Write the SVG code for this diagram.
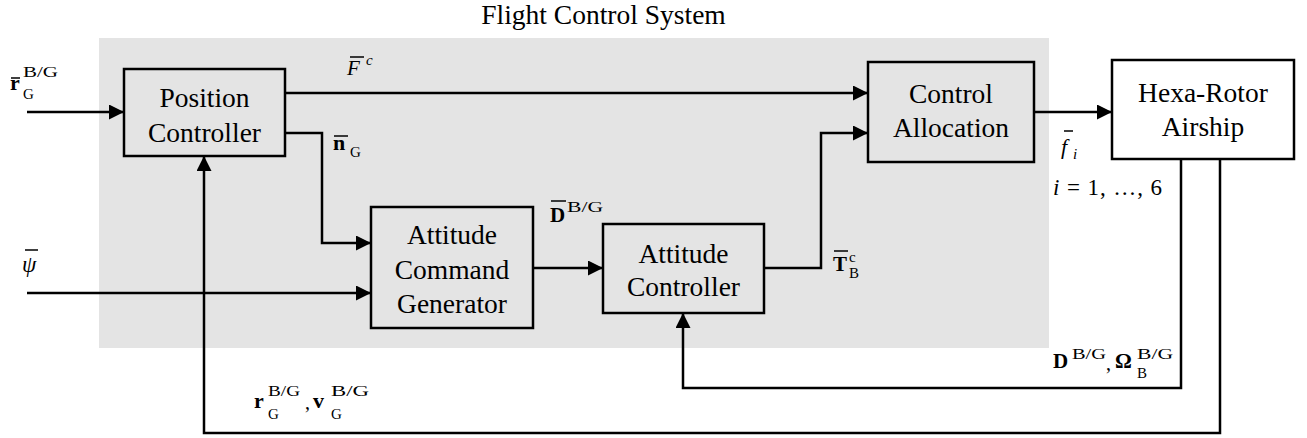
<svg xmlns="http://www.w3.org/2000/svg" width="1307" height="438" viewBox="0 0 1307 438">
<style>
.box{fill:none;stroke:#000;stroke-width:2.5}
.wbox{fill:#fff;stroke:#000;stroke-width:2.5}
.lbl{font-size:27.5px;fill:#000;text-anchor:middle}
.conn path{fill:none;stroke:#000;stroke-width:2.5}
.bar{stroke:#000;stroke-width:1.6;fill:none}
.mb{font-weight:bold}
.mi{font-style:italic}
.s{font-size:15px}
</style>
<defs>
<marker id="ah" markerUnits="userSpaceOnUse" markerWidth="15" markerHeight="15" refX="15" refY="7.5" orient="auto">
<path d="M0,0 L15,7.5 L0,15 Z" fill="#000"/>
</marker>
</defs>
<rect id="fcs-bg" x="99" y="38" width="950" height="310" fill="#e4e4e4"/>
<g font-family="Liberation Serif, serif" fill="#000">
<text class="lbl" x="603.5" y="24">Flight Control System</text>

<g id="position-controller">
<rect class="box" x="124" y="69" width="161" height="87"/>
<text class="lbl" x="204.5" y="107">Position</text>
<text class="lbl" x="204.5" y="142">Controller</text>
</g>
<g id="control-allocation">
<rect class="box" x="868" y="62" width="166" height="100"/>
<text class="lbl" x="951" y="103">Control</text>
<text class="lbl" x="951" y="137">Allocation</text>
</g>
<g id="airship">
<rect class="wbox" x="1112" y="60" width="182" height="99"/>
<text class="lbl" x="1203" y="102">Hexa-Rotor</text>
<text class="lbl" x="1203" y="136">Airship</text>
</g>
<g id="attitude-command-generator">
<rect class="box" x="371" y="207" width="162" height="121"/>
<text class="lbl" x="452" y="244">Attitude</text>
<text class="lbl" x="452" y="278.5">Command</text>
<text class="lbl" x="452" y="313">Generator</text>
</g>
<g id="attitude-controller">
<rect class="box" x="603" y="224" width="161" height="89"/>
<text class="lbl" x="683.5" y="263">Attitude</text>
<text class="lbl" x="683.5" y="296">Controller</text>
</g>

<g class="conn" id="connectors">
<path d="M27,112 H124" marker-end="url(#ah)"/>
<path d="M27,293 H371" marker-end="url(#ah)"/>
<path d="M285,93 H868" marker-end="url(#ah)"/>
<path d="M285,133 H322 V243 H371" marker-end="url(#ah)"/>
<path d="M533,268 H603" marker-end="url(#ah)"/>
<path d="M764,268 H821 V133 H868" marker-end="url(#ah)"/>
<path d="M1034,112 H1112" marker-end="url(#ah)"/>
<path d="M1181,159 V388 H683 V313" marker-end="url(#ah)"/>
<path d="M1220,159 V433 H204 V156" marker-end="url(#ah)"/>
</g>

<g id="labels">
<path class="bar" d="M11,78 H20 M350,57 H364 M334,136 H348 M551,201 H566 M834,251 H848 M1064,131 H1073 M25,250 H38"/>

<text class="mb" x="10" y="90" font-size="22">r</text>
<text class="s" x="23" y="77" textLength="35" lengthAdjust="spacingAndGlyphs">B/G</text>
<text class="s" x="23" y="99" font-size="16">G</text>

<text class="mi" x="347" y="75" font-size="21">F</text>
<text class="mi" x="366" y="65" font-size="15">c</text>

<text class="mb" x="333" y="150" font-size="22">n</text>
<text class="s" x="350" y="157">G</text>

<text class="mb" x="550" y="222" font-size="21">D</text>
<text class="s" x="567" y="212" textLength="36" lengthAdjust="spacingAndGlyphs">B/G</text>

<text class="mb" x="833" y="271" font-size="21">T</text>
<text class="s" x="849" y="262" font-size="11">c</text>
<text class="s" x="849" y="278" font-size="11">B</text>

<text class="mi" x="1061" y="154" font-size="22">f</text>
<text class="mi" x="1073" y="159" font-size="15">i</text>

<text x="1053" y="195" font-size="23" textLength="109" lengthAdjust="spacing"><tspan font-style="italic">i</tspan> = 1, …, 6</text>

<text class="mi" x="22" y="272" font-size="23">ψ</text>

<text class="mb" x="1053" y="368" font-size="21">D</text>
<text class="s" x="1072" y="359" textLength="34" lengthAdjust="spacingAndGlyphs">B/G</text>
<text x="1106" y="370" font-size="20">,</text>
<text class="mb" x="1115" y="368" font-size="21">Ω</text>
<text class="s" x="1137" y="359" textLength="36" lengthAdjust="spacingAndGlyphs">B/G</text>
<text class="s" x="1137" y="378">B</text>

<text class="mb" x="254" y="408" font-size="22">r</text>
<text class="s" x="268" y="396" textLength="32" lengthAdjust="spacingAndGlyphs">B/G</text>
<text class="s" x="268" y="419">G</text>
<text x="305" y="409" font-size="20">,</text>
<text class="mb" x="313" y="408" font-size="22">v</text>
<text class="s" x="331" y="396" textLength="38" lengthAdjust="spacingAndGlyphs">B/G</text>
<text class="s" x="331" y="419">G</text>
</g>
</g>
</svg>
